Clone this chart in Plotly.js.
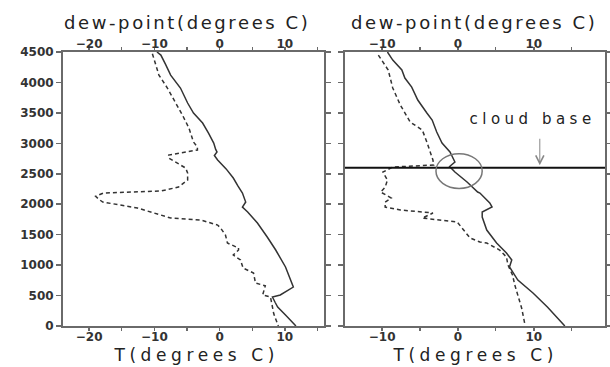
<!DOCTYPE html>
<html>
<head>
<meta charset="utf-8">
<script src="https://cdn.plot.ly/plotly-3.0.1.min.js"></script>
<style>
html,body{margin:0;padding:0;background:#fff;}
#chart{width:610px;height:367px;}
</style>
</head>
<body>
<div id="chart"></div>
<script>
// ---- Left panel: temperature profile (solid) ----
const leftT_height = [4500,4450,4300,4121,3908,3662,3498,3333,3169,3005,2900,2860,2800,2726,2580,2430,2300,2184,2036,1954,1872,1691,1461,1248,969,755,640,509,476,390,312,181,0];
const leftT_temp   = [-9.6,-9.0,-8.3,-7.5,-6.0,-4.9,-4.0,-2.6,-1.7,-0.9,-0.6,-0.4,-0.8,-0.3,1.0,2.1,2.8,3.5,4.0,3.5,4.3,5.8,7.3,8.6,10.1,10.9,11.3,9.3,8.1,8.5,8.9,10.1,11.7];
// ---- Left panel: dew-point profile (dashed) ----
const leftTd_height = [4470,4121,3908,3662,3465,3251,3021,2939,2890,2808,2759,2644,2594,2512,2397,2282,2217,2184,2130,2080,2036,1938,1823,1773,1741,1658,1609,1494,1363,1281,1248,1166,1084,952,870,706,660,509,476,312,200,0];
const leftTd_temp   = [-10.3,-9.3,-8.0,-6.7,-5.7,-4.7,-4.0,-3.4,-3.4,-7.8,-7.8,-6.0,-5.2,-4.9,-4.9,-6.3,-9.0,-17.8,-19.0,-18.5,-17.9,-12.6,-9.0,-7.5,-2.9,-0.3,0.15,0.9,1.2,2.9,2.9,2.1,3.2,3.6,5.2,5.5,7.0,6.6,7.8,8.1,8.3,9.0];
// ---- Right panel: temperature profile (solid) ----
const rightT_height = [4500,4368,4204,4072,3924,3711,3498,3383,3186,3005,2857,2693,2620,2529,2365,2200,2184,2020,1954,1872,1790,1576,1363,1199,1084,969,755,542,312,148,0];
const rightT_temp   = [-9.3,-8.6,-7.4,-7.0,-6.1,-5.3,-4.1,-3.4,-2.8,-2.1,-1.05,-0.4,-1.1,-0.4,1.2,2.6,2.9,4.2,4.5,3.2,3.2,3.8,5.1,6.4,7.1,6.8,7.9,9.9,11.8,13.0,14.1];
// ---- Right panel: dew-point profile (dashed) ----
const rightTd_height = [4450,4204,3908,3629,3350,3218,3021,2890,2726,2644,2611,2529,2397,2280,2200,2102,2036,1954,1905,1856,1773,1708,1576,1445,1379,1363,1248,1133,1002,837,673,509,296,49];
const rightTd_temp   = [-10.5,-9.2,-8.6,-7.6,-6.3,-4.7,-4.1,-3.7,-3.3,-3.2,-8.6,-9.9,-9.3,-9.6,-10.2,-8.8,-9.6,-9.6,-7.6,-3.3,-4.7,-0.1,0.7,1.6,2.9,3.8,5.5,6.4,6.6,7.2,7.5,7.9,8.4,8.8];
// ---- Annotations / markers ----
const cloudBaseHeight = 2600;
const cloudBaseLabel = "cloud base";
const topTitle = "dew-point(degrees C)";
const bottomTitle = "T(degrees C)";

const lineCol = '#6a6a6a';
const curveCol = '#333333';
const tickFont = {family:'DejaVu Sans', size:12, color:'#333', weight:'bold'};

function xax(domain, range, extra){
  return Object.assign({
    domain: domain, range: range, tick0: 0, dtick: 10,
    ticks: 'outside', ticklen: 3, tickwidth: 1.5, tickcolor: lineCol,
    minor: {dtick: 5, tick0: 0, ticks: 'outside', ticklen: 3, tickwidth: 1.2, tickcolor: lineCol},
    showline: true, linecolor: lineCol, linewidth: 2,
    showgrid: false, zeroline: false, tickfont: tickFont
  }, extra);
}
function yax(domain, extra){
  return Object.assign({
    domain: domain, range: [0, 4500], tick0: 0, dtick: 500,
    ticks: 'outside', ticklen: 5, tickwidth: 1.5, tickcolor: lineCol,
    showline: true, linecolor: lineCol, linewidth: 2, mirror: 'ticks',
    showgrid: false, zeroline: false, tickfont: tickFont
  }, extra);
}

const dL = [63/610, 324/610], dR = [345/610, 605/610], dY = [1-326/367, 1-52/367];
const rL = [-24, 16], rR = [-14.9, 19.4];

const traces = [
  {x: leftT_temp, y: leftT_height, xaxis:'x', yaxis:'y', mode:'lines', line:{color:curveCol, width:1.5}, hoverinfo:'skip'},
  {x: leftTd_temp, y: leftTd_height, xaxis:'x', yaxis:'y', mode:'lines', line:{color:curveCol, width:1.5, dash:'4px,3px'}, hoverinfo:'skip'},
  {x: rightT_temp, y: rightT_height, xaxis:'x3', yaxis:'y2', mode:'lines', line:{color:curveCol, width:1.5}, hoverinfo:'skip'},
  {x: rightTd_temp, y: rightTd_height, xaxis:'x3', yaxis:'y2', mode:'lines', line:{color:curveCol, width:1.5, dash:'4px,3px'}, hoverinfo:'skip'},
  {x: [], y: [], xaxis:'x2', yaxis:'y', mode:'lines', showlegend:false},
  {x: [], y: [], xaxis:'x4', yaxis:'y2', mode:'lines', showlegend:false}
];

const titleFont = {family:'DejaVu Sans', size:18, color:'#222'};
const bottomFont = {family:'DejaVu Sans', size:17, color:'#222'};
const layout = {
  width: 610, height: 367,
  margin: {l:0, r:0, t:0, b:0},
  paper_bgcolor: '#fff', plot_bgcolor: '#fff',
  showlegend: false,
  xaxis: xax(dL, rL, {anchor:'y', ticklabelstandoff:-4}),
  xaxis2: xax(dL, rL, {anchor:'y', overlaying:'x', side:'top', ticklabelstandoff:-6}),
  yaxis: yax(dY, {anchor:'x'}),
  xaxis3: xax(dR, rR, {anchor:'y2', ticklabelstandoff:-4}),
  xaxis4: xax(dR, rR, {anchor:'y2', overlaying:'x3', side:'top', ticklabelstandoff:-6}),
  yaxis2: yax(dY, {anchor:'x3', showticklabels:false}),
  shapes: [
    {type:'line', xref:'x3', yref:'y2', x0:-15.3, x1:rR[1], y0:cloudBaseHeight, y1:cloudBaseHeight, line:{color:'#111', width:2}},
    {type:'circle', xref:'x3', yref:'y2', x0:-2.9, x1:3.2, y0:2260, y1:2830, line:{color:'#777', width:1.5}}
  ],
  annotations: [
    {xref:'paper', yref:'paper', x:187/610, y:1-22/367, xanchor:'center', yanchor:'middle', showarrow:false, text: topTitle, font:titleFont},
    {xref:'paper', yref:'paper', x:474/610, y:1-22/367, xanchor:'center', yanchor:'middle', showarrow:false, text: topTitle, font:titleFont},
    {xref:'paper', yref:'paper', x:196/610, y:1-355/367, xanchor:'center', yanchor:'middle', showarrow:false, text: bottomTitle, font:bottomFont},
    {xref:'paper', yref:'paper', x:475/610, y:1-355/367, xanchor:'center', yanchor:'middle', showarrow:false, text: bottomTitle, font:bottomFont},
    {xref:'x3', yref:'y2', x:9.8, y:3400, xanchor:'center', yanchor:'middle', showarrow:false,
     text: cloudBaseLabel, font:{family:'DejaVu Sans', size:15, color:'#222'}},
    {xref:'x3', yref:'y2', x:10.8, y:2640, ax:0, ay:-28, showarrow:true, text:'',
     arrowhead:5, arrowsize:1.6, arrowwidth:1, arrowcolor:'#888'}
  ]
};

Plotly.newPlot('chart', traces, layout, {staticPlot:true, displayModeBar:false}).then(function(){
  document.querySelectorAll('.annotation-text').forEach(function(t){
    const s = t.textContent;
    if (s === topTitle) t.style.letterSpacing = '2.6px';
    if (s === bottomTitle) t.style.letterSpacing = '4.6px';
    if (s === cloudBaseLabel) t.style.letterSpacing = '4.5px';
  });
});
</script>
</body>
</html>
